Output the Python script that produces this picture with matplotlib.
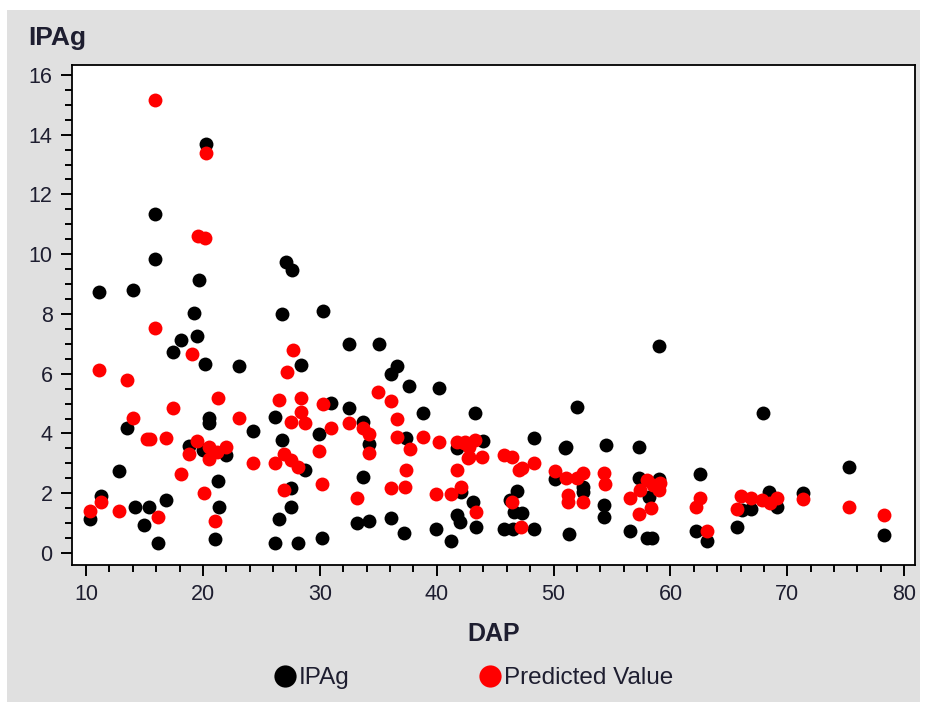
import numpy as np
from matplotlib import pyplot as plt
from matplotlib.patches import Rectangle
from matplotlib.lines import Line2D
from matplotlib.ticker import MultipleLocator

#%% Data

# observed IPAg
dap_obs = [15.9, 20.3, 15.9, 19.7, 11.1, 14.0, 27.1, 27.6, 19.2, 26.8,
           18.1, 19.5, 17.4, 20.2, 23.1, 13.5, 20.5, 20.5, 24.3, 26.2,
           26.8, 18.8, 20.0, 22.0, 12.8, 21.3, 11.3, 10.3, 14.2, 15.4,
           16.8, 15.0, 16.2, 21.4, 21.0, 26.5, 26.2,
           30.3, 32.5, 35.1, 28.4, 36.6, 36.1, 37.6, 40.2, 31.0, 32.5,
           38.8, 43.3, 33.7, 29.9, 34.2, 37.4, 41.7, 28.7, 33.7, 42.1,
           27.5, 27.5, 28.1, 30.2, 33.2, 34.2, 36.1, 37.2, 39.9, 41.2,
           41.7, 42.0, 43.1, 43.4,
           59.0, 52.0, 48.3, 51.1, 51.0, 54.5, 57.3, 44.0, 50.1, 52.5,
           52.5, 54.3, 54.3, 57.3, 59.0, 58.2, 56.5, 58.0, 58.4, 46.9,
           46.3, 46.6, 47.3, 45.8, 46.5, 48.3, 51.3,
           67.9, 62.5, 75.3, 62.2, 63.1, 65.7, 66.1, 66.9, 68.4, 69.1,
           71.3, 78.3]
ipag = [11.34, 13.69, 9.85, 9.13, 8.73, 8.79, 9.73, 9.47, 8.04, 8.00,
        7.12, 7.26, 6.72, 6.31, 6.25, 4.17, 4.51, 4.36, 4.09, 4.56,
        3.78, 3.59, 3.45, 3.28, 2.75, 2.41, 1.92, 1.14, 1.54, 1.54,
        1.76, 0.93, 0.35, 1.54, 0.48, 1.14, 0.35,
        8.11, 6.98, 6.98, 6.29, 6.26, 5.98, 5.59, 5.53, 5.03, 4.84,
        4.70, 4.70, 4.40, 3.97, 3.65, 3.84, 3.50, 2.78, 2.55, 2.05,
        2.16, 1.55, 0.35, 0.49, 1.01, 1.08, 1.16, 0.68, 0.82, 0.41,
        1.27, 1.05, 1.72, 0.88,
        6.92, 4.90, 3.84, 3.56, 3.50, 3.61, 3.56, 3.76, 2.47, 2.22,
        2.05, 1.61, 1.22, 2.50, 2.47, 1.88, 0.75, 0.52, 0.52, 2.09,
        1.77, 1.38, 1.35, 0.80, 0.80, 0.80, 0.63,
        4.70, 2.63, 2.89, 0.75, 0.41, 0.88, 1.44, 1.47, 2.05, 1.53,
        2.00, 0.60]

# predicted values
dap_pred = [15.9, 20.3, 19.6, 20.2, 15.9, 19.1, 11.1, 13.5, 21.3, 17.4,
            27.7, 27.2, 14.0, 15.2, 15.5, 16.8, 23.1, 19.5, 18.8, 20.5,
            22.0, 21.2, 20.5, 24.3, 26.2, 26.9, 27.5, 18.1, 20.1, 26.9,
            11.3, 10.3, 12.8, 16.2, 21.0,
            26.5, 28.4, 30.3, 35.0, 36.1, 28.4, 27.5, 28.7, 31.0, 32.5,
            33.7, 34.2, 36.6, 34.2, 36.6, 37.7, 38.8, 40.2, 41.7, 42.4,
            43.3, 42.7, 28.1, 29.9, 41.7, 30.2, 37.4, 37.3, 36.1, 33.2,
            39.9, 41.2, 42.1, 43.4,
            42.3, 42.8, 42.8, 43.9, 45.8, 46.4, 47.0, 47.3, 48.3, 50.1,
            51.1, 52.0, 52.5, 51.2, 51.2, 52.5, 54.3, 54.4, 58.0, 58.5,
            59.1, 59.0, 57.4, 56.5, 58.3, 57.3, 46.4, 47.2,
            62.5, 62.2, 63.1, 65.7, 66.0, 66.9, 67.8, 68.5, 69.1, 71.3,
            75.3, 78.3]
pred = [15.15, 13.40, 10.61, 10.53, 7.52, 6.65, 6.12, 5.78, 5.18, 4.84,
        6.78, 6.05, 4.51, 3.82, 3.82, 3.84, 4.51, 3.76, 3.30, 3.56,
        3.56, 3.39, 3.14, 3.02, 3.02, 3.31, 3.10, 2.63, 2.02, 2.10,
        1.70, 1.42, 1.42, 1.20, 1.08,
        5.11, 5.19, 4.98, 5.38, 5.09, 4.71, 4.37, 4.36, 4.17, 4.36,
        4.17, 3.97, 4.49, 3.36, 3.89, 3.48, 3.89, 3.71, 3.71, 3.71,
        3.78, 3.17, 2.89, 3.42, 2.78, 2.30, 2.78, 2.22, 2.16, 1.83,
        1.96, 1.96, 2.22, 1.38,
        3.67, 3.56, 3.22, 3.22, 3.29, 3.22, 2.78, 2.84, 3.00, 2.75,
        2.50, 2.50, 2.69, 1.94, 1.72, 1.70, 2.69, 2.30, 2.44, 2.28,
        2.33, 2.11, 2.11, 1.83, 1.50, 1.30, 1.72, 0.88,
        1.85, 1.55, 0.75, 1.47, 1.91, 1.83, 1.77, 1.68, 1.83, 1.81,
        1.55, 1.27]

#%% Config

W, H = 928, 702
BG = '#e0e0e0'
TXT = '#1e1e30'
plt.rcParams['font.family'] = ['Liberation Sans', 'DejaVu Sans']

fig = plt.figure(figsize=(W / 100, H / 100), dpi=100)
fig.patch.set_facecolor('white')
fig.patches.append(Rectangle((7 / W, 0), 913 / W, 692 / H,
                             transform=fig.transFigure, facecolor=BG,
                             edgecolor='none', zorder=-10))

ax = fig.add_axes([72 / W, 1 - 565 / H, 843 / W, 500 / H])
ax.set_facecolor('white')

ax.scatter(dap_obs, ipag, s=100, color='black', linewidths=0, zorder=3)
ax.scatter(dap_pred, pred, s=100, color='red', linewidths=0, zorder=4)

ax.set_xlim(8.8, 80.92)
ax.set_ylim(-0.40, 16.33)
ax.xaxis.set_major_locator(MultipleLocator(10))
ax.xaxis.set_minor_locator(MultipleLocator(2))
ax.yaxis.set_major_locator(MultipleLocator(2))
ax.yaxis.set_minor_locator(MultipleLocator(0.5))

for s in ax.spines.values():
    s.set_linewidth(1.3)
ax.tick_params(which='major', length=8, width=1.4, labelsize=15.5,
               labelcolor=TXT, pad=6)
ax.tick_params(which='minor', length=5, width=1.4)

ax.set_xlabel('DAP', fontsize=18, fontweight='bold', color=TXT, labelpad=12)
fig.text(28 / W, 1 - 38 / H, 'IPAg', fontsize=19, fontweight='bold',
         color=TXT, ha='left', va='center')

handles = [Line2D([], [], ls='none', marker='o', ms=16, color='black', mew=0),
           Line2D([], [], ls='none', marker='o', ms=16, color='red', mew=0)]
fig.legend(handles, ['IPAg', 'Predicted Value'], ncol=2, frameon=False,
           loc='center', bbox_to_anchor=(473 / W, 1 - 678 / H),
           fontsize=17.5, labelcolor=TXT, handlelength=1.0,
           handletextpad=0.05, columnspacing=5.3)

plt.savefig('out.png', dpi=100)
